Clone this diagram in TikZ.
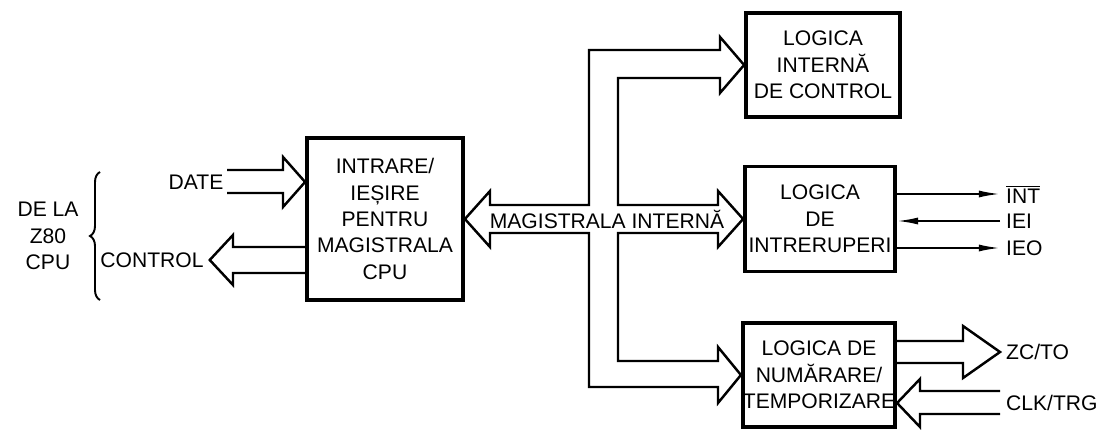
\documentclass[tikz,border=0pt]{standalone}
\usepackage{fontspec}
\setmainfont{Liberation Sans}
\usetikzlibrary{arrows.meta,decorations.pathreplacing}

\begin{document}
\begin{tikzpicture}[x=0.02cm, y=-0.02cm,
    every node/.style={font=\fontsize{12}{15}\selectfont, align=center},
    block/.style={draw, line width=2.2pt, inner sep=0pt},
    bus/.style={line width=1.4pt, line join=miter},
    sig/.style={line width=1.1pt, -{Latex[length=12pt,width=4pt]}},
    lbl/.style={anchor=west}]
    \useasboundingbox (0,0) rectangle (1104,429);
    \node[block, minimum width=3.12cm, minimum height=3.24cm] (io) at (385,219) {INTRARE/\\IEȘIRE\\PENTRU\\MAGISTRALA\\CPU};
    \node[block, minimum width=3.08cm, minimum height=2.08cm] (ctl) at (823,65) {LOGICA\\INTERNĂ\\DE CONTROL};
    \node[block, minimum width=3.00cm, minimum height=2.10cm] (intr) at (820,219) {LOGICA\\DE\\INTRERUPERI};
    \node[block, minimum width=3.04cm, minimum height=2.08cm] (cnt) at (819,375) {LOGICA DE\\NUMĂRARE/\\TEMPORIZARE};
    \node (src) at (48,236) {DE LA\\Z80\\CPU};
    \node (date) at (196,182) {DATE};
    \node (ctrl) at (152,260) {CONTROL};
    \node (bus) at (607,219) {MAGISTRALA INTERNĂ};
    \node[lbl] (int) at (1000,194) {$\overline{\mbox{INT}}$};
    \node[lbl] (iei) at (1000,221) {IEI};
    \node[lbl] (ieo) at (1000,248) {IEO};
    \node[lbl] (zc) at (1000,352) {ZC/TO};
    \node[lbl] (clk) at (1000,403) {CLK/TRG};
    \draw [line width=1.1pt, decorate, decoration={brace, amplitude=0.2cm}] (100,300) -- (100,172);
    \draw [bus] (227,170) -- (283,170) -- (283,157) -- (io.west |- date) -- (283,207) -- (283,193) -- (227,193);
    \draw [bus] (io.west |- 0,247) -- (233,247) -- (233,235) -- (ctrl.east) -- (233,285) -- (233,273) -- (io.west |- 0,273);
    \draw [bus] (490,205) -- (490,191) -- (io.east) -- (490,247) -- (490,233) -- (589,233) -- (589,387)
        -- (718,387) -- (718,403) -- (cnt.west) -- (718,347) -- (718,361) -- (618,361) -- (618,233)
        -- (718,233) -- (718,247) -- (intr.west) -- (718,191) -- (718,205) -- (618,205) -- (618,78)
        -- (720,78) -- (720,93) -- (ctl.west) -- (720,37) -- (720,50) -- (589,50) -- (589,205) -- cycle;
    \draw [sig] (intr.east |- int) to (int.west);
    \draw [sig] (iei.west) to (intr.east |- iei);
    \draw [sig] (intr.east |- ieo) to (ieo.west);
    \draw [bus] (cnt.east |- 0,341) -- (963,341) -- (963,326) -- (zc.west) -- (963,378) -- (963,363) -- (cnt.east |- 0,363);
    \draw [bus] (clk.west |- 0,391) -- (920,391) -- (920,379) -- (cnt.east |- clk) -- (920,427) -- (920,414) -- (clk.west |- 0,414);
\end{tikzpicture}
\end{document}
